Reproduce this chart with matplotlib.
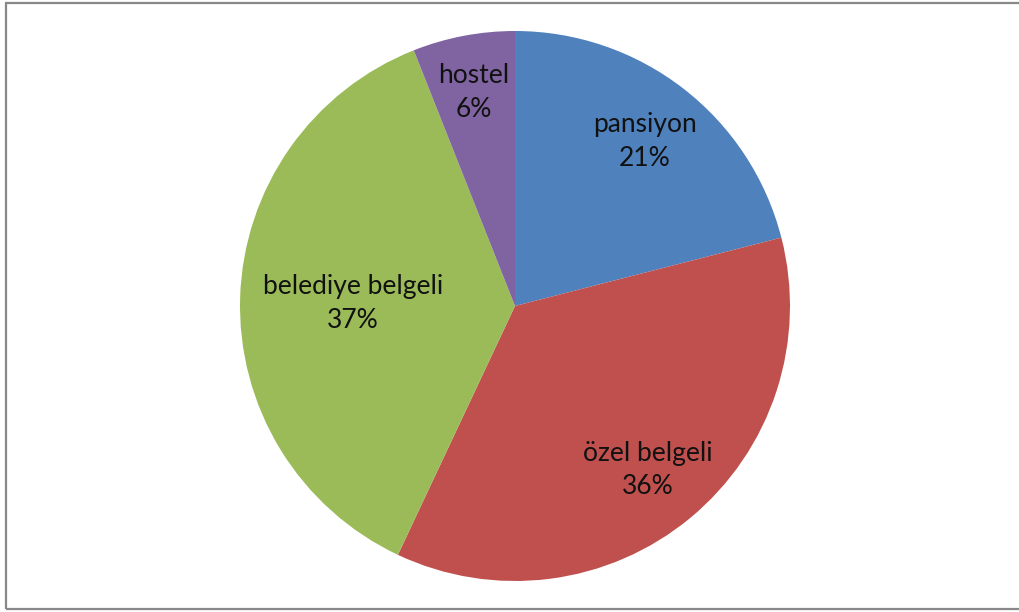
import numpy as np
import matplotlib
matplotlib.use("Agg")
import matplotlib.pyplot as plt
from matplotlib.patches import Rectangle

# Share of accommodation types
categories = ["pansiyon", "özel belgeli", "belediye belgeli", "hostel"]
values = [21, 36, 37, 6]
colors = ["#4F81BD", "#C0504D", "#9BBB59", "#8064A2"]
label_radius = [0.77, 0.76, 0.59, 0.80]

W, H, DPI = 1020, 612, 100
fig = plt.figure(figsize=(W / DPI, H / DPI), dpi=DPI)
fig.patch.set_facecolor("white")

# chart frame
fig.patches.append(Rectangle((6 / W, 3 / H), 1.2, (H - 6) / H,
                             transform=fig.transFigure, fill=False,
                             edgecolor="#888888", linewidth=1.6))

cx, cy, r = 515, 306, 275
ax = fig.add_axes([(cx - r) / W, (H - cy - r) / H, 2 * r / W, 2 * r / H])
wedges, _ = ax.pie(values, colors=colors, startangle=90, counterclock=False,
                   radius=1.0, wedgeprops=dict(linewidth=0))
ax.set_xlim(-1, 1)
ax.set_ylim(-1, 1)
ax.set_aspect("equal")
ax.axis("off")

total = sum(values)
for w, name, v, d in zip(wedges, categories, values, label_radius):
    ang = np.deg2rad((w.theta1 + w.theta2) / 2)
    x, y = d * np.cos(ang), d * np.sin(ang) - 0.01
    ax.text(x, y, f"{name}\n{round(100 * v / total)}%", ha="center", va="center",
            fontsize=19, family=["Lato", "DejaVu Sans"], color="#111111",
            linespacing=1.42)

fig.savefig("out.png", dpi=DPI)
